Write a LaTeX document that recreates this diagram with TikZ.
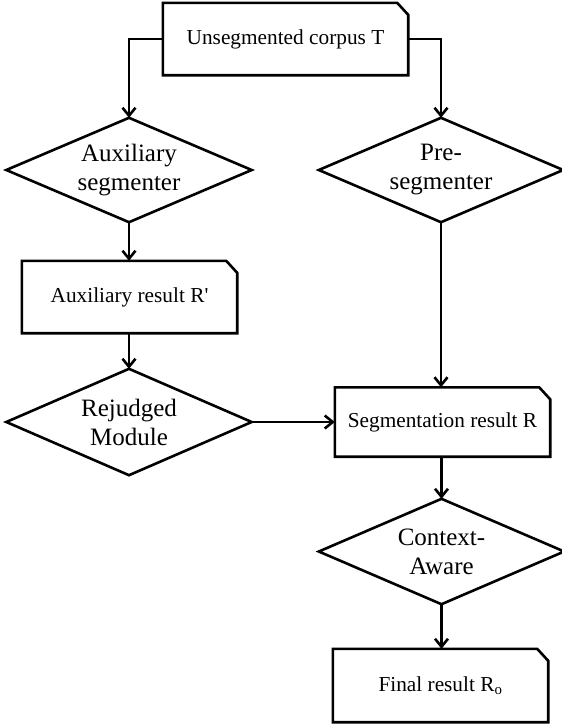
\documentclass[tikz,border=0pt]{standalone}
\usepackage{fontspec}
\setmainfont{Liberation Serif}
\usetikzlibrary{arrows.meta}
\tikzset{
  boxnode/.style={rectangle, inner sep=0pt, draw=none, font=\fontsize{21.3}{25}\selectfont, align=center},
  dianode/.style={rectangle, inner sep=0pt, draw=none, font=\fontsize{25}{29}\selectfont, align=center},
  outline/.style={line width=2.6pt, line join=miter},
  flow/.style={line width=2.6pt, -{Straight Barb[length=8pt,width=13pt,line width=2.6pt]}},
}
\newcommand{\cutbox}[1]{\draw[outline] (#1.south west) -- (#1.north west) -- ([xshift=-11pt]#1.north east) -- ([yshift=-12pt]#1.north east) -- (#1.south east) -- cycle;}
\newcommand{\diam}[1]{\draw[outline] (#1.west) -- (#1.north) -- (#1.east) -- (#1.south) -- cycle;}
\begin{document}
\begin{tikzpicture}[x=1pt,y=-1pt]
\useasboundingbox (0,0) rectangle (562,724);
\node[boxnode, minimum width=245pt, minimum height=72pt] (T) at (285.5,39) {\raisebox{-3pt}{Unsegmented corpus T}};
\node[dianode, minimum width=245pt, minimum height=104pt] (aux) at (129,170) {Auxiliary\\segmenter};
\node[dianode, minimum width=244pt, minimum height=104pt] (pre) at (441,170) {Pre-\\segmenter};
\node[boxnode, minimum width=215pt, minimum height=72pt] (auxr) at (129.5,297) {Auxiliary result R\textquotesingle};
\node[dianode, minimum width=245pt, minimum height=106pt] (rej) at (129,422) {Rejudged\\Module};
\node[boxnode, minimum width=215pt, minimum height=69pt] (seg) at (442.5,422) {Segmentation result R};
\node[dianode, minimum width=245pt, minimum height=105pt] (ctx) at (441.5,551.5) {Context-\\Aware};
\node[boxnode, minimum width=215pt, minimum height=73pt] (fin) at (440.5,685.5) {Final result R\textsubscript{o}};
\cutbox{T}
\cutbox{auxr}
\cutbox{seg}
\cutbox{fin}
\diam{aux}
\diam{pre}
\diam{rej}
\diam{ctx}
\draw[flow] (T.west) -| (aux.north);
\draw[flow] (T.east) -| (pre.north);
\draw[flow] (aux.south) -- (auxr.north -| aux.south);
\draw[flow] (auxr.south -| rej.north) -- (rej.north);
\draw[flow] (rej.east) -- (seg.west);
\draw[flow] (pre.south) -- (seg.north -| pre.south);
\draw[flow] (seg.south -| ctx.north) -- (ctx.north);
\draw[flow] (ctx.south) -- (fin.north -| ctx.south);
\end{tikzpicture}
\end{document}
